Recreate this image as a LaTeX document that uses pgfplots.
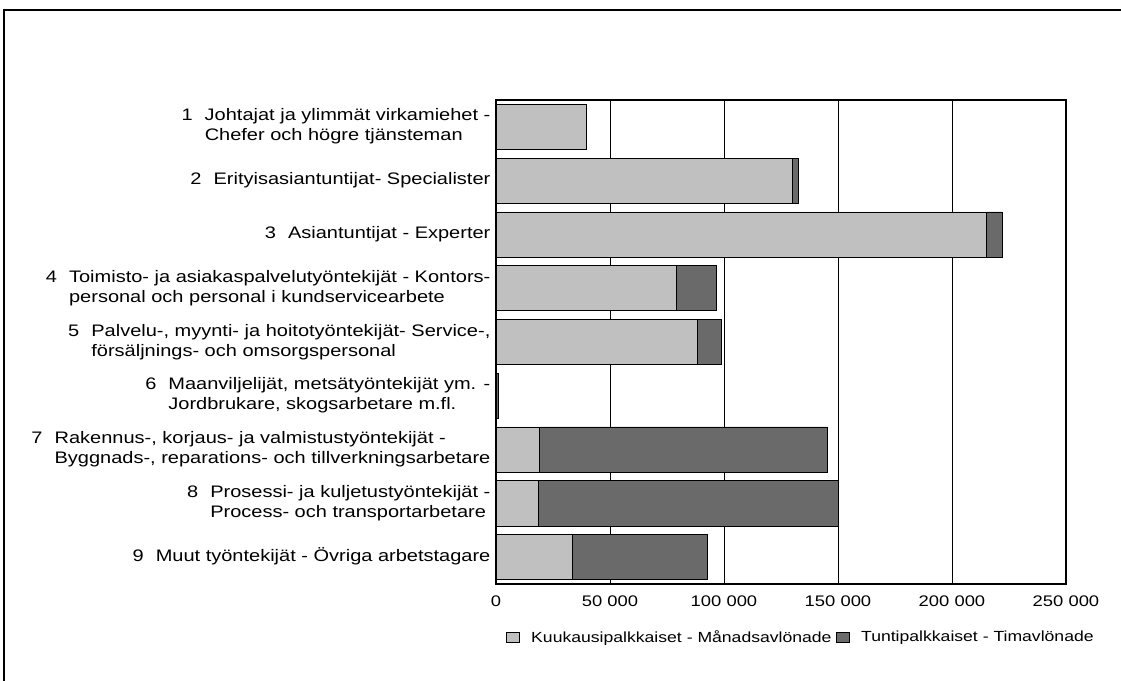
\documentclass[border=0pt]{standalone}
\usepackage{pgfplots}
\pgfplotsset{compat=1.18}
\usepackage{fontspec}
\setmainfont{Liberation Sans}[FakeStretch=1.2]
\definecolor{lightbar}{HTML}{C0C0C0}
\definecolor{darkbar}{HTML}{6A6A6A}
\newcommand\lab[3]{\begin{tabular}{@{}l@{\hspace{9pt}}l@{}}#1&#2\\&#3\end{tabular}}
\newcommand\labo[2]{\begin{tabular}{@{}l@{\hspace{9pt}}l@{}}#1&#2\end{tabular}}
\begin{document}
\begin{tikzpicture}
\path[use as bounding box] (0,0) rectangle (840.75pt,510.75pt);
\draw[line width=1pt] (3pt,0) -- (3pt,503.25pt) -- (842pt,503.25pt);
\begin{axis}[
  at={(372pt,72.75pt)}, anchor=south west,
  scale only axis, width=427.5pt, height=363pt,
  xbar stacked, bar width=0.84,
  xmin=0, xmax=250000,
  ymin=0.5, ymax=9.5, y dir=reverse,
  xtick={0,50000,100000,150000,200000,250000},
  xticklabels={0,50 000,100 000,150 000,200 000,250 000},
  scaled x ticks=false,
  xmajorgrids, major grid style={black, line width=0.6pt},
  axis line style={black, line width=0.8pt},
  xtick style={draw=none}, ytick style={draw=none},
  ytick={1,2,3,4,5,6,7,8,9},
  yticklabels={
    {\lab{1}{Johtajat ja ylimmät virkamiehet -}{Chefer och högre tjänsteman}},
    {\labo{2}{Erityisasiantuntijat- Specialister}},
    {\labo{3}{Asiantuntijat - Experter}},
    {\lab{4}{Toimisto- ja asiakaspalvelutyöntekijät - Kontors-}{personal och personal i kundservicearbete}},
    {\lab{5}{Palvelu-, myynti- ja hoitotyöntekijät- Service-,}{försäljnings- och omsorgspersonal}},
    {\lab{6}{Maanviljelijät, metsätyöntekijät ym. -}{Jordbrukare, skogsarbetare m.fl.}},
    {\lab{7}{Rakennus-, korjaus- ja valmistustyöntekijät -}{Byggnads-, reparations- och tillverkningsarbetare}},
    {\lab{8}{Prosessi- ja kuljetustyöntekijät -}{Process- och transportarbetare}},
    {\labo{9}{Muut työntekijät - Övriga arbetstagare}}},
  yticklabel style={font=\fontsize{12.5}{15}\selectfont, inner sep=1pt, xshift=-3pt},
  xticklabel style={font=\fontsize{11.5}{13}\selectfont, yshift=-5.5pt},
  legend style={at={(0.5,0)}, xshift=15pt, yshift=-40pt, anchor=center, draw=none,
    font=\fontsize{11}{13}\selectfont, legend columns=2,
    /tikz/every odd column/.append style={column sep=7pt},
    /tikz/every even column/.append style={column sep=1pt}},
  legend image code/.code={\draw[#1, draw=black, line width=0.5pt] (0cm,-0.12cm) rectangle (0.34cm,0.12cm);},
]
\addplot[fill=lightbar, draw=black, line width=0.5pt] coordinates {
 (39500,1) (129800,2) (215200,3) (79100,4) (88100,5) (300,6) (19200,7) (18400,8) (33400,9)};
\addplot[fill=darkbar, draw=black, line width=0.5pt] coordinates {
 (0,1) (2600,2) (6900,3) (17500,4) (10600,5) (700,6) (126300,7) (131700,8) (59100,9)};
\legend{Kuukausipalkkaiset - Månadsavlönade, Tuntipalkkaiset - Timavlönade}
\end{axis}
\end{tikzpicture}
\end{document}
